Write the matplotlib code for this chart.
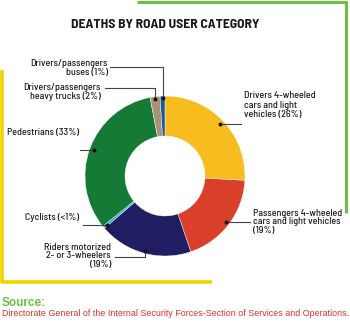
import numpy as np
import matplotlib
matplotlib.use('Agg')
import matplotlib.pyplot as plt

# data
labels = ['Drivers 4-wheeled\ncars and light\nvehicles (26%)',
          'Passengers 4-wheeled\ncars and light vehicles\n(19%)',
          'Riders motorized\n2- or 3-wheelers\n(19%)',
          'Cyclists (<1%)',
          'Pedestrians (33%)',
          'Drivers/passengers\nheavy trucks (2%)',
          'Drivers/passengers\nbuses (1%)']
values = [26, 19, 19, 0.5, 33, 2, 1]
colors = ['#F7BD1E', '#D8402A', '#201D62', '#1BA4E1', '#157A36', '#A8927A', '#1B5C97']

W, H = 350, 323
def Y(y):
    return H - y

fig = plt.figure(figsize=(3.5, 3.23), dpi=100)
ax = fig.add_axes([0, 0, 1, 1])
ax.set_xlim(0, W)
ax.set_ylim(0, H)
ax.axis('off')

font = ['Barlow Semi Condensed', 'DejaVu Sans']

# frame lines
ax.plot([137, 346, 346], [Y(1.5), Y(1.5), Y(213)], color='#6CBE45', lw=2.2, solid_capstyle='butt')
ax.plot([2, 2, 212], [Y(70), Y(282), Y(282)], color='#F0D400', lw=2.6, solid_capstyle='butt')

ax.text(165.5, Y(25), 'DEATHS BY ROAD USER CATEGORY', ha='center', va='center',
        fontsize=9.8, fontweight='bold', family=font, color='#1a1a1a')

cx, cy, R = 165, Y(176), 80
wedges, _ = ax.pie(values, colors=colors, startangle=90, counterclock=False,
                   center=(cx, cy), radius=R,
                   wedgeprops=dict(width=R * 0.5, edgecolor='white', linewidth=0.3))
ax.set_aspect('equal')
ax.set_xlim(0, W)
ax.set_ylim(0, H)

# label layout: (text x, text y, ha, leader kind, leader end x, elbow y)
layout = [
    (244, 105, 'left', 'h', 241, None),
    (253, 222, 'left', 'h', 250, None),
    (111, 256, 'right', 'elbow', 115, 257),
    (79, 218, 'right', 'h', 83, None),
    (7, 132, 'left', 'h', 80, None),
    (101, 92, 'right', 'elbow', 105, 88),
    (108, 68, 'right', 'elbow', 110, 67),
]

for w, lab, (tx, ty, ha, kind, lx, ey) in zip(wedges, labels, layout):
    ang = np.deg2rad((w.theta1 + w.theta2) / 2)
    r = R * 0.95 if kind == 'h' else R * 0.97
    dx = cx + r * np.cos(ang)
    dy = cy + r * np.sin(ang)
    if kind == 'h':
        ax.plot([dx, lx], [dy, dy], color='#444444', lw=0.8)
    else:
        ax.plot([dx, dx, lx], [dy, Y(ey), Y(ey)], color='#444444', lw=0.8)
    ax.plot(dx, dy, 'o', color='#111111', ms=1.8)
    ax.text(tx, Y(ty), lab, ha=ha, va='center', fontsize=7.2, family=font,
            fontweight='medium', color='#1e1e1e', linespacing=1.0, multialignment=ha)

ax.text(2, Y(303), 'Source:', ha='left', va='center', fontsize=8.5,
        fontweight='bold', family=['Liberation Sans', 'DejaVu Sans'], color='#6CBE45')
ax.text(2, Y(313.5), 'Directorate General of the Internal Security Forces-Section of Services and Operations.',
        ha='left', va='center', fontsize=6.4, family=['Liberation Sans', 'DejaVu Sans'], color='#D9302B')

fig.savefig('out.png', dpi=100)
